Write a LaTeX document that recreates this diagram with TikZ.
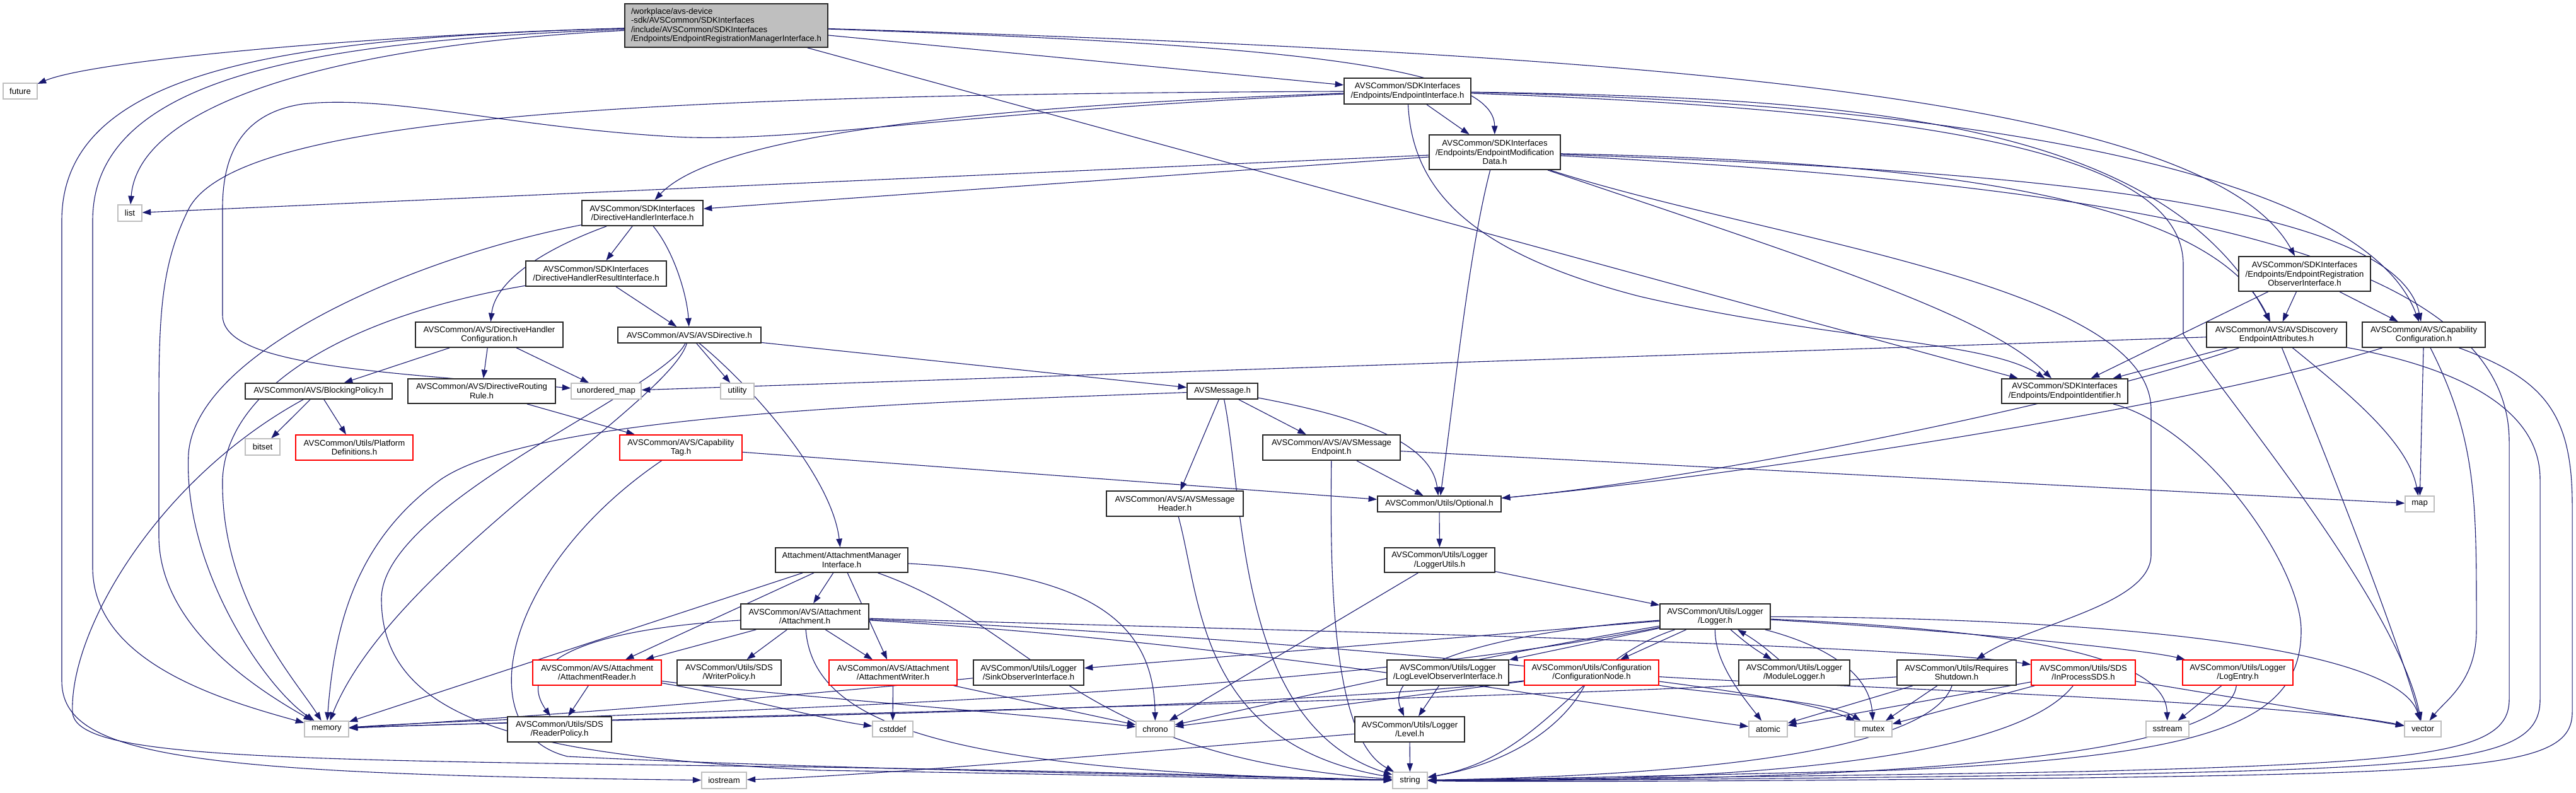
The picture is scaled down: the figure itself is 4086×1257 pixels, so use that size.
\documentclass[tikz,border=0pt]{standalone}
\usepackage{fontspec}
\setmainfont{Liberation Sans}
\usetikzlibrary{arrows.meta}
\pgfdeclarelayer{bg}
\pgfsetlayers{bg,main}
\definecolor{edgec}{RGB}{25,25,112}
\definecolor{syscol}{RGB}{191,191,191}
\definecolor{rootfill}{RGB}{191,191,191}
\definecolor{nodeline}{RGB}{40,40,40}
\tikzset{
  base/.style={fill=white, inner sep=0pt, align=center, font=\fontsize{13.2}{14.6}\selectfont},
  nd/.style={base, draw=nodeline, line width=1.7bp},
  rd/.style={base, draw=red, line width=1.4bp},
  gy/.style={base, draw=syscol, line width=1.4bp},
  rt/.style={base, draw=nodeline, line width=1.7bp, fill=rootfill, align=left},
  e/.style={draw=edgec, line width=1.1bp, -{Triangle[length=13.5bp,width=9.5bp]}},
}
\newcommand{\mkbox}[7]{\node[#1, minimum width=#5bp, minimum height=#6bp] (#2) at (#3,#4) {#7};}
\begin{document}
\begin{tikzpicture}[x=1bp,y=-1bp]
\useasboundingbox (0,0) rectangle (4086,1257);
% ---------------- nodes ----------------
\mkbox{rt}{R}{1152}{40.5}{322}{69}{/workplace/avs-device\\-sdk/AVSCommon/SDKInterfaces\\/include/AVSCommon/SDKInterfaces\\/Endpoints/EndpointRegistrationManagerInterface.h}
\mkbox{gy}{future}{32}{144.5}{54}{25}{future}
\mkbox{gy}{list}{206}{338}{38}{26}{list}
\mkbox{nd}{EI}{2232.5}{144.5}{201}{41}{AVSCommon/SDKInterfaces\\/Endpoints/EndpointInterface.h}
\mkbox{nd}{EMD}{2371}{241.5}{208}{55}{AVSCommon/SDKInterfaces\\/Endpoints/EndpointModification\\Data.h}
\mkbox{nd}{DHI}{1019}{338}{192}{40}{AVSCommon/SDKInterfaces\\/DirectiveHandlerInterface.h}
\mkbox{nd}{DHRI}{945.5}{434}{223}{40}{AVSCommon/SDKInterfaces\\/DirectiveHandlerResultInterface.h}
\mkbox{nd}{DHC}{776}{531}{234}{40}{AVSCommon/AVS/DirectiveHandler\\Configuration.h}
\mkbox{nd}{AVSDir}{1093.5}{531.5}{227}{25}{AVSCommon/AVS/AVSDirective.h}
\mkbox{nd}{BP}{505.5}{620.5}{233}{25}{AVSCommon/AVS/BlockingPolicy.h}
\mkbox{nd}{DRR}{764}{620.5}{234}{39}{AVSCommon/AVS/DirectiveRouting\\Rule.h}
\mkbox{gy}{umap}{961.5}{620.5}{111}{25}{unordered\_map}
\mkbox{gy}{utility}{1169.5}{620.5}{53}{25}{utility}
\mkbox{nd}{AVSMsg}{1939}{620.5}{112}{25}{AVSMessage.h}
\mkbox{nd}{EROI}{3655.5}{434.5}{209}{55}{AVSCommon/SDKInterfaces\\/Endpoints/EndpointRegistration\\ObserverInterface.h}
\mkbox{nd}{AVSDEA}{3611}{531}{222}{40}{AVSCommon/AVS/AVSDiscovery\\EndpointAttributes.h}
\mkbox{nd}{CC}{3844.5}{531}{195}{40}{AVSCommon/AVS/Capability\\Configuration.h}
\mkbox{nd}{EID}{3275}{620.5}{200}{39}{AVSCommon/SDKInterfaces\\/Endpoints/EndpointIdentifier.h}
\mkbox{gy}{bitset}{416.5}{709}{55}{26}{bitset}
\mkbox{rd}{PD}{562}{710}{186}{40}{AVSCommon/Utils/Platform\\Definitions.h}
\mkbox{rd}{CT}{1080}{710}{194}{40}{AVSCommon/AVS/Capability\\Tag.h}
\mkbox{nd}{AME}{2112}{710}{218}{40}{AVSCommon/AVS/AVSMessage\\Endpoint.h}
\mkbox{nd}{AMH}{1863.5}{799}{217}{40}{AVSCommon/AVS/AVSMessage\\Header.h}
\mkbox{nd}{Opt}{2283}{799.5}{196}{25}{AVSCommon/Utils/Optional.h}
\mkbox{gy}{map}{3838}{799.5}{46}{25}{map}
\mkbox{nd}{AMI}{1335}{888.5}{210}{39}{Attachment/AttachmentManager\\Interface.h}
\mkbox{nd}{LU}{2283.5}{888.5}{175}{39}{AVSCommon/Utils/Logger\\/LoggerUtils.h}
\mkbox{nd}{Att}{1276.5}{978}{203}{40}{AVSCommon/AVS/Attachment\\/Attachment.h}
\mkbox{nd}{Logger}{2720.5}{978}{175}{40}{AVSCommon/Utils/Logger\\/Logger.h}
\mkbox{rd}{AR}{947}{1067}{204}{40}{AVSCommon/AVS/Attachment\\/AttachmentReader.h}
\mkbox{nd}{WP}{1156.5}{1067}{165}{40}{AVSCommon/Utils/SDS\\/WriterPolicy.h}
\mkbox{rd}{AW}{1416.5}{1067}{203}{40}{AVSCommon/AVS/Attachment\\/AttachmentWriter.h}
\mkbox{nd}{SOI}{1631.5}{1067}{175}{40}{AVSCommon/Utils/Logger\\/SinkObserverInterface.h}
\mkbox{nd}{LLOI}{2296.5}{1067}{193}{40}{AVSCommon/Utils/Logger\\/LogLevelObserverInterface.h}
\mkbox{rd}{CN}{2524.5}{1067}{213}{40}{AVSCommon/Utils/Configuration\\/ConfigurationNode.h}
\mkbox{nd}{ML}{2846}{1067}{176}{40}{AVSCommon/Utils/Logger\\/ModuleLogger.h}
\mkbox{nd}{RS}{3103.5}{1067}{189}{40}{AVSCommon/Utils/Requires\\Shutdown.h}
\mkbox{rd}{IPS}{3304.5}{1067}{165}{40}{AVSCommon/Utils/SDS\\/InProcessSDS.h}
\mkbox{rd}{LE}{3549.5}{1067}{175}{40}{AVSCommon/Utils/Logger\\/LogEntry.h}
\mkbox{gy}{memory}{518}{1156.5}{70}{25}{memory}
\mkbox{nd}{RP}{887.5}{1157}{165}{40}{AVSCommon/Utils/SDS\\/ReaderPolicy.h}
\mkbox{gy}{cstddef}{1416}{1156.5}{64}{25}{cstddef}
\mkbox{gy}{chrono}{1832.5}{1156.5}{61}{25}{chrono}
\mkbox{nd}{Level}{2236}{1157}{174}{40}{AVSCommon/Utils/Logger\\/Level.h}
\mkbox{gy}{atomic}{2804.5}{1156.5}{61}{25}{atomic}
\mkbox{gy}{mutex}{2971.5}{1156.5}{59}{25}{mutex}
\mkbox{gy}{sstream}{3438}{1156.5}{68}{25}{sstream}
\mkbox{gy}{vector}{3843}{1156.5}{58}{25}{vector}
\mkbox{gy}{iostream}{1148.5}{1238}{71}{26}{iostream}
\mkbox{gy}{string}{2236.5}{1238}{55}{26}{string}
% ---------------- edges ----------------
\begin{pgfonlayer}{bg}
\fill[white] (0,0) rectangle (4086,1257);
% root
\draw[e] (R) .. controls (600,55) and (150,95) .. (future);
\draw[e] (R) .. controls (550,70) and (220,160) .. (list);
\draw[e] (R) .. controls (450,60) and (98,110) .. (98,350) -- (98,1080) .. controls (98,1200) and (300,1228) .. (iostream);
\draw[e] (R) .. controls (500,65) and (147,120) .. (147,350) -- (147,900) .. controls (147,1050) and (350,1110) .. (memory);
\draw[e] (R) -- (EI);
\draw[e] (R) .. controls (2000,70) and (2370,100) .. (EMD);
\draw[e] (R) .. controls (2600,85) and (3500,150) .. (EROI);
\draw[e] (R) -- (EID);
% EI
\draw[e] (EI) -- (EMD);
\draw[e] (EI) .. controls (1500,170) and (1130,220) .. (DHI);
\draw[e] (EI) .. controls (1500,178) and (1250,230) .. (1054,216) .. controls (800,200) and (620,150) .. (480,165) .. controls (380,180) and (353,250) .. (353,330) -- (353,500) .. controls (353,580) and (600,590) .. (umap);
\draw[e] (EI) .. controls (1000,150) and (380,185) .. (300,330) .. controls (255,420) and (252,500) .. (252,650) -- (252,850) .. controls (252,1000) and (420,1100) .. (memory);
\draw[e] (EI) .. controls (2900,155) and (3430,180) .. (AVSDEA);
\draw[e] (EI) .. controls (3000,160) and (3740,250) .. (CC);
\draw[e] (EI) .. controls (2240,300) and (2330,400) .. (2600,470) .. controls (2900,540) and (3150,540) .. (EID);
\draw[e] (EI) .. controls (3100,175) and (3463,250) .. (3463,420) -- (3463,530) .. controls (3520,620) and (3800,950) .. (vector);
% EMD
\draw[e] (EMD) -- (list);
\draw[e] (EMD) -- (DHI);
\draw[e] (EMD) .. controls (3000,255) and (3500,300) .. (AVSDEA);
\draw[e] (EMD) .. controls (3200,270) and (3800,320) .. (CC);
\draw[e] (EMD) .. controls (2900,420) and (3150,500) .. (EID);
\draw[e] (EMD) .. controls (2330,400) and (2310,600) .. (Opt);
\draw[e] (EMD) .. controls (2800,380) and (3412,450) .. (3412,650) -- (3412,880) .. controls (3412,960) and (3220,990) .. (RS);
\draw[e] (EMD) .. controls (3300,290) and (3980,380) .. (3980,700) -- (3980,1110) .. controls (3980,1195) and (3850,1210) .. (3300,1224) .. controls (2800,1233) and (2400,1236) .. (string);
% DHI / DHRI / DHC
\draw[e] (DHI) -- (DHRI);
\draw[e] (DHI) .. controls (850,400) and (785,450) .. (DHC);
\draw[e] (DHI) .. controls (1070,400) and (1090,470) .. (AVSDir);
\draw[e] (DHI) .. controls (650,410) and (310,560) .. (299,720) .. controls (290,900) and (420,1090) .. (memory);
\draw[e] (DHRI) -- (AVSDir);
\draw[e] (DHRI) .. controls (560,500) and (360,610) .. (353,760) .. controls (350,950) and (470,1080) .. (memory);
\draw[e] (DHC) -- (BP);
\draw[e] (DHC) -- (DRR);
\draw[e] (DHC) -- (umap);
\draw[e] (BP) -- (bitset);
\draw[e] (BP) -- (PD);
\draw[e] (BP) .. controls (250,760) and (110,1000) .. (115,1130) .. controls (120,1200) and (400,1205) .. (1150,1215) .. controls (1700,1222) and (2000,1232) .. (string);
\draw[e] (DRR) -- (CT);
\draw[e] (CT) -- (Opt);
\draw[e] (CT) .. controls (800,900) and (740,1160) .. (900,1200) .. controls (1300,1220) and (1900,1230) .. (string);
% AVSDirective
\draw[e] (AVSDir) -- (utility);
\draw[e] (AVSDir) -- (AVSMsg);
\draw[e] (AVSDir) .. controls (1200,620) and (1320,760) .. (AMI);
\draw[e] (AVSDir) .. controls (1060,640) and (620,900) .. (memory);
\draw[e] (AVSDir) .. controls (1050,620) and (605,800) .. (605,950) .. controls (605,1150) and (850,1200) .. (1300,1222) .. controls (1800,1230) and (2000,1236) .. (string);
% AVSMessage
\draw[e] (AVSMsg) -- (AMH);
\draw[e] (AVSMsg) -- (AME);
\draw[e] (AVSMsg) .. controls (2150,660) and (2270,700) .. (Opt);
\draw[e] (AVSMsg) .. controls (1975,800) and (1960,1150) .. (string);
\draw[e] (AVSMsg) .. controls (1400,640) and (850,660) .. (700,760) .. controls (560,860) and (530,1000) .. (memory);
\draw[e] (AME) -- (Opt);
\draw[e] (AME) -- (map);
\draw[e] (AME) .. controls (2110,900) and (2110,1170) .. (string);
\draw[e] (AMH) .. controls (1905,950) and (1900,1180) .. (string);
\draw[e] (Opt) -- (LU);
\draw[e] (LU) -- (Logger);
\draw[e] (LU) -- (chrono);
% EROI / AVSDEA / CC / EID
\draw[e] (EROI) -- (AVSDEA);
\draw[e] (EROI) -- (CC);
\draw[e] (EROI) -- (EID);
\draw[e] (AVSDEA) -- (EID);
\draw[e] (AVSDEA) .. controls (3300,640) and (2700,760) .. (Opt);
\draw[e] (AVSDEA) -- (umap);
\draw[e] (AVSDEA) .. controls (3720,620) and (3820,700) .. (map);
\draw[e] (AVSDEA) .. controls (3680,700) and (3800,1000) .. (vector);
\draw[e] (AVSDEA) .. controls (3880,580) and (4029,640) .. (4029,760) -- (4029,1110) .. controls (4029,1205) and (3900,1218) .. (3300,1229) .. controls (2800,1236) and (2400,1239) .. (string);
\draw[e] (CC) -- (map);
\draw[e] (CC) .. controls (3930,700) and (3928,800) .. (3928,1000) .. controls (3928,1080) and (3880,1110) .. (vector);
\draw[e] (CC) .. controls (3500,640) and (2800,750) .. (Opt);
\draw[e] (CC) .. controls (4030,600) and (4080,650) .. (4080,800) -- (4080,1130) .. controls (4080,1215) and (3950,1225) .. (3300,1234) .. controls (2800,1239) and (2400,1241) .. (string);
\draw[e] (EID) .. controls (3500,680) and (3650,900) .. (3650,1000) .. controls (3650,1150) and (3500,1200) .. (3000,1222) .. controls (2600,1232) and (2400,1236) .. (string);
% Attachment
\draw[e] (AMI) -- (Att);
\draw[e] (AMI) -- (AR);
\draw[e] (AMI) -- (AW);
\draw[e] (AMI) -- (memory);
\draw[e] (AMI) .. controls (1750,910) and (1830,1000) .. (chrono);
\draw[e] (AMI) .. controls (1650,1000) and (1700,1200) .. (string);
\draw[e] (Att) -- (AR);
\draw[e] (Att) -- (WP);
\draw[e] (Att) -- (AW);
\draw[e] (Att) .. controls (900,1000) and (820,1060) .. (RP);
\draw[e] (Att) .. controls (1290,1150) and (1500,1225) .. (string);
\draw[e] (Att) .. controls (2000,1000) and (3000,1020) .. (IPS);
\draw[e] (Att) .. controls (2000,1010) and (2800,1080) .. (mutex);
\draw[e] (Att) .. controls (2000,1020) and (2600,1130) .. (atomic);
\draw[e] (AR) -- (RP);
\draw[e] (AR) .. controls (1150,1100) and (1300,1140) .. (cstddef);
\draw[e] (AR) .. controls (1200,1100) and (1600,1130) .. (chrono);
\draw[e] (AW) -- (cstddef);
\draw[e] (AW) -- (chrono);
% Logger
\draw[e] (Logger) -- (SOI);
\draw[e] (Logger) -- (LLOI);
\draw[e] (Logger) -- (CN);
\draw[e] (Logger) to[bend right=5] (ML);
\draw[e] (ML) to[bend right=5] (Logger);
\draw[e] (Logger) .. controls (2400,1000) and (2190,1050) .. (Level);
\draw[e] (Logger) .. controls (2300,1050) and (2000,1120) .. (chrono);
\draw[e] (Logger) .. controls (2720,1050) and (2760,1100) .. (atomic);
\draw[e] (Logger) .. controls (2880,1020) and (2965,1060) .. (mutex);
\draw[e] (Logger) .. controls (3200,1000) and (3435,1040) .. (sstream);
\draw[e] (Logger) .. controls (3100,1000) and (3400,1030) .. (LE);
\draw[e] (Logger) .. controls (3300,980) and (3800,1020) .. (vector);
\draw[e] (Logger) .. controls (2500,1050) and (2450,1200) .. (string);
\draw[e] (Logger) .. controls (2000,1120) and (900,1130) .. (memory);
\draw[e] (LLOI) -- (Level);
\draw[e] (SOI) .. controls (1200,1110) and (800,1140) .. (memory);
\draw[e] (CN) .. controls (2000,1130) and (900,1140) .. (memory);
\draw[e] (CN) -- (chrono);
\draw[e] (CN) .. controls (2480,1150) and (2400,1210) .. (string);
\draw[e] (CN) .. controls (2700,1100) and (2900,1110) .. (mutex);
\draw[e] (CN) .. controls (2900,1090) and (3600,1110) .. (vector);
\draw[e] (Level) -- (string);
\draw[e] (Level) .. controls (1900,1185) and (1400,1230) .. (iostream);
\draw[e] (RS) -- (atomic);
\draw[e] (RS) -- (mutex);
\draw[e] (RS) .. controls (3060,1190) and (2700,1230) .. (string);
\draw[e] (RS) .. controls (2500,1110) and (900,1140) .. (memory);
\draw[e] (IPS) -- (atomic);
\draw[e] (IPS) -- (mutex);
\draw[e] (IPS) .. controls (3200,1200) and (2800,1240) .. (string);
\draw[e] (IPS) -- (vector);
\draw[e] (LE) -- (sstream);
\draw[e] (LE) .. controls (3535,1200) and (3000,1240) .. (string);
\end{pgfonlayer}
\end{tikzpicture}
\end{document}
